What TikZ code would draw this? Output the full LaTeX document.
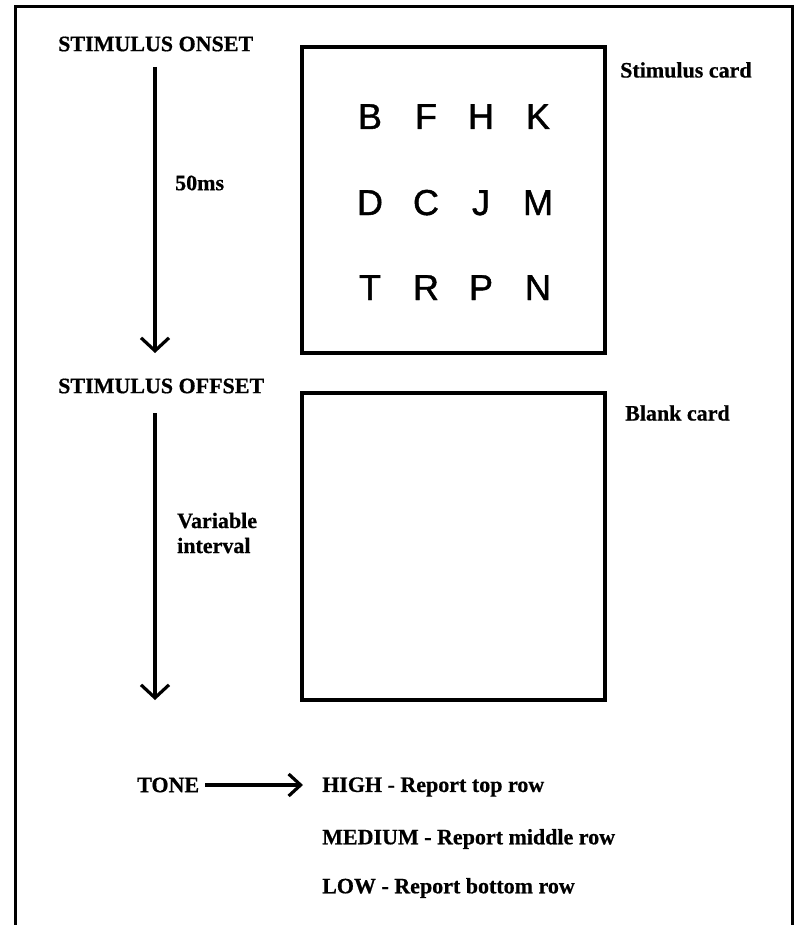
\documentclass[tikz,border=0pt]{standalone}
\usepackage{fontspec}
\setmainfont{Liberation Serif}[BoldFeatures={FakeBold=0.6}]
\newfontfamily\gridfont{Liberation Sans}[FakeBold=1.2]
\usetikzlibrary{arrows.meta}
\tikzset{
  lbl/.style={font=\fontsize{22}{26}\selectfont\bfseries, inner sep=0pt, anchor=west},
  letter/.style={font=\fontsize{36}{40}\selectfont\gridfont, inner sep=0pt, anchor=base},
  card/.style={draw, line width=3.8pt, minimum width=303pt, minimum height=306pt, inner sep=0pt},
  timearrow/.style={line width=3.2pt, -{Straight Barb[length=13pt,width=28pt,line width=3.2pt]}},
  tonearrow/.style={line width=3.2pt, -{Straight Barb[length=12pt,width=22pt,line width=3.2pt]}},
  frameline/.style={line width=3pt, line cap=butt}
}
\begin{document}
\begin{tikzpicture}[x=1pt,y=-1pt]
\useasboundingbox (0,0) rectangle (797,925);
\fill[white] (0,0) rectangle (797,925);
% outer frame (open at the bottom)
\draw[frameline] (15,925) -- (15,7) -- (792,7) -- (792,925);

% labels on the left
\node[lbl] (onset) at (58,44) {STIMULUS ONSET};
\node[lbl] (offset) at (58,386) {STIMULUS OFFSET};
\node[lbl] (dur) at (175,183) {50ms};
\node[lbl, align=left, font=\fontsize{22}{25}\selectfont\bfseries] (var) at (177,533) {Variable\\interval};

% time arrows
\coordinate (a1s) at (155,67);
\coordinate (a1e) at (155,353);
\coordinate (a2s) at (155,413);
\coordinate (a2e) at (155,700);
\draw[timearrow] (a1s) -- (a1e);
\draw[timearrow] (a2s) -- (a2e);

% cards
\node[card] (stimcard) at (453.5,200) {};
\node[card, minimum height=307pt] (blankcard) at (453.5,546.5) {};
\node[lbl] (stimlbl) at (620,70) {Stimulus card};
\node[lbl] (blanklbl) at (625,413) {Blank card};

% letter grid
\node[letter] (l11) at (370,129) {B};
\node[letter] (l12) at (426,129) {F};
\node[letter] (l13) at (481,129) {H};
\node[letter] (l14) at (538,129) {K};
\node[letter] (l21) at (370,215) {D};
\node[letter] (l22) at (426,215) {C};
\node[letter] (l23) at (481,215) {J};
\node[letter] (l24) at (538,215) {M};
\node[letter] (l31) at (370,300) {T};
\node[letter] (l32) at (426,300) {R};
\node[letter] (l33) at (481,300) {P};
\node[letter] (l34) at (538,300) {N};

% tone
\node[lbl] (tone) at (137,785) {TONE};
\node[lbl] (high) at (322,787) {HIGH - Report top row};
\node[lbl] (medium) at (322,839) {MEDIUM - Report middle row};
\node[lbl] (low) at (322,888) {LOW - Report bottom row};
\draw[tonearrow, shorten <=6pt, shorten >=19pt] (tone.east) -- (tone.east -| high.west);
\end{tikzpicture}
\end{document}
